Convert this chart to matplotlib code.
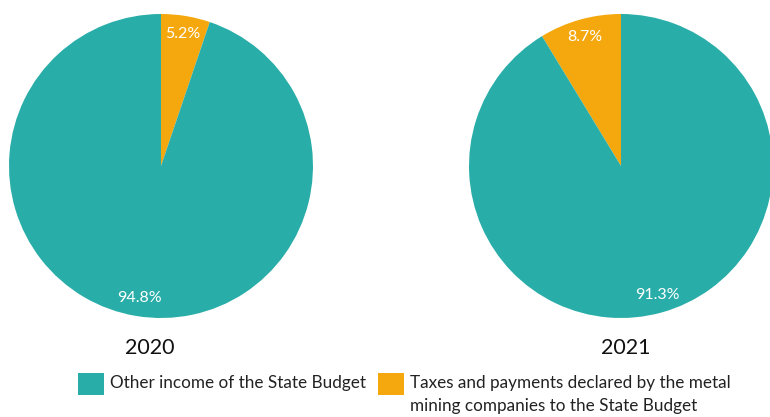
import matplotlib
matplotlib.use("Agg")
import matplotlib.pyplot as plt
from matplotlib.patches import Rectangle

plt.rcParams["font.family"] = ["Lato", "DejaVu Sans"]

# Share of State Budget income, per year (%)
years = ["2020", "2021"]
mining_share = [5.2, 8.7]
other_share = [94.8, 91.3]
labels = ["Other income of the State Budget",
          "Taxes and payments declared by the metal\nmining companies to the State Budget"]

teal = "#29ADA9"
orange = "#F5A80D"

W, H = 770, 417
fig = plt.figure(figsize=(W / 100, H / 100), dpi=100)
fig.patch.set_facecolor("white")

# pie boxes in pixels: left, bottom, size; year label x-offset
boxes = [(9, 99, 304, -11), (469, 99, 304, 5)]

for i, (yr, mine, other) in enumerate(zip(years, mining_share, other_share)):
    l, b, s, dx = boxes[i]
    ax = fig.add_axes([l / W, b / H, s / W, s / H])
    # 2020 runs clockwise, 2021 counter-clockwise, both from 12 o'clock
    ax.pie([mine, other], colors=[orange, teal], startangle=90,
           counterclock=(i == 1), radius=1.0,
           autopct=lambda p: f"{p:.1f}%", pctdistance=0.88,
           wedgeprops=dict(linewidth=0),
           textprops=dict(color="white", fontsize=11.5))
    ax.set_xlim(-1, 1)
    ax.set_ylim(-1, 1)
    ax.set_aspect("equal")
    fig.text((l + s / 2 + dx) / W, 1 - 348 / H, yr, fontsize=15.5,
             color="#111111", ha="center", va="center")

# legend: colour swatch + label, laid out in pixels
for x0, col, lab in [(78, teal, labels[0]), (378, orange, labels[1])]:
    fig.patches.append(Rectangle((x0 / W, 1 - 395 / H), 26 / W, 22 / H,
                                 transform=fig.transFigure, facecolor=col,
                                 edgecolor="none"))
    fig.text((x0 + 32) / W, 1 - 375 / H, lab, fontsize=12.3, color="#222222",
             ha="left", va="top", linespacing=1.5)

fig.savefig("out.png", dpi=100)
